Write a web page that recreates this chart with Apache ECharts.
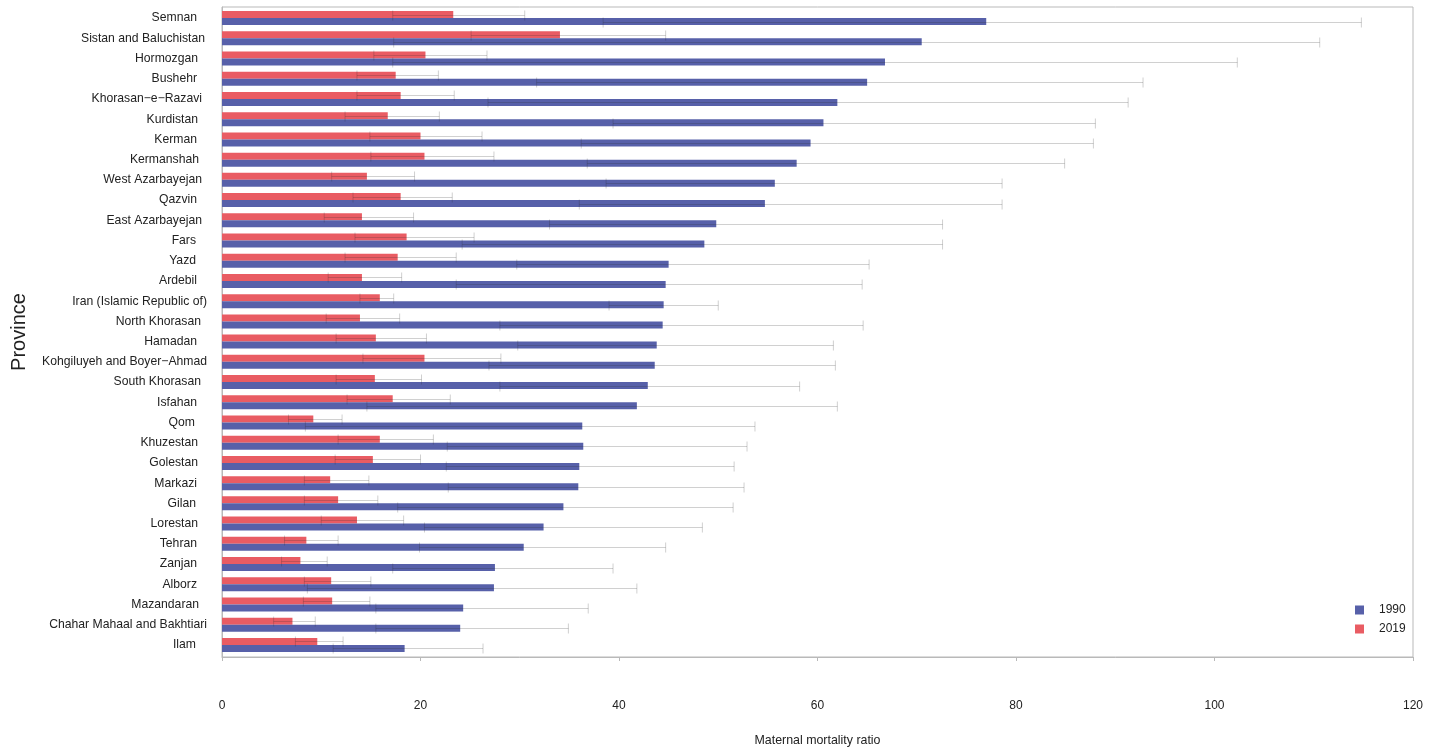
<!DOCTYPE html>
<html>
<head>
<meta charset="utf-8">
<title>Maternal mortality ratio by province</title>
<style>
html, body { margin: 0; padding: 0; background: #fff; }
#chart { width: 1429px; height: 751px; }
</style>
<script src="https://cdn.jsdelivr.net/npm/echarts@6/dist/echarts.min.js"></script>
</head>
<body>
<div id="chart"></div>
<script>
var provinces = ["Semnan", "Sistan and Baluchistan", "Hormozgan", "Bushehr", "Khorasan−e−Razavi", "Kurdistan", "Kerman", "Kermanshah",
	"West Azarbayejan", "Qazvin", "East Azarbayejan", "Fars", "Yazd", "Ardebil", "Iran (Islamic Republic of)", "North Khorasan",
	"Hamadan", "Kohgiluyeh and Boyer−Ahmad", "South Khorasan", "Isfahan", "Qom", "Khuzestan", "Golestan", "Markazi",
	"Gilan", "Lorestan", "Tehran", "Zanjan", "Alborz", "Mazandaran", "Chahar Mahaal and Bakhtiari", "Ilam"];

var values1990 = [77, 70.5, 66.8, 65, 62, 60.6, 59.3, 57.9, 55.7, 54.7, 49.8, 48.6, 45, 44.7, 44.5, 44.4,
	43.8, 43.6, 42.9, 41.8, 36.3, 36.4, 36, 35.9, 34.4, 32.4, 30.4, 27.5, 27.4, 24.3, 24, 18.4];
var lower1990 = [38.4, 17.3, 17.2, 31.7, 26.8, 39.4, 36.2, 36.8, 38.7, 36, 33, 24.2, 29.7, 23.6, 39, 28,
	29.8, 26.9, 28, 14.6, 8.4, 22.7, 22.6, 22.8, 17.7, 20.4, 19.9, 17.2, 8.6, 15.5, 15.5, 11.2];
var upper1990 = [114.8, 110.6, 102.3, 92.8, 91.3, 88, 87.8, 84.9, 78.6, 78.6, 72.6, 72.6, 65.2, 64.5, 50, 64.6,
	61.6, 61.8, 58.2, 62, 53.7, 52.9, 51.6, 52.6, 51.5, 48.4, 44.7, 39.4, 41.8, 36.9, 34.9, 26.3];

var values2019 = [23.3, 34.05, 20.5, 17.5, 18, 16.7, 20, 20.4, 14.6, 18, 14.1, 18.6, 17.7, 14.1, 15.9, 13.9,
	15.5, 20.4, 15.4, 17.2, 9.2, 15.9, 15.2, 10.9, 11.7, 13.6, 8.5, 7.9, 11, 11.1, 7.1, 9.6];
var lower2019 = [17.2, 25.1, 15.3, 13.6, 13.6, 12.4, 14.9, 15, 11.05, 13.2, 10.3, 13.4, 12.4, 10.7, 13.9, 10.5,
	11.5, 14.2, 11.5, 12.6, 6.7, 11.7, 11.4, 8.3, 8.3, 10, 6.3, 6, 8.3, 8.2, 5.2, 7.4];
var upper2019 = [30.5, 44.7, 26.7, 21.8, 23.4, 21.9, 26.2, 27.4, 19.4, 23.2, 19.3, 25.4, 23.6, 18.1, 17.3, 17.9,
	20.6, 28.1, 20.1, 23, 12.1, 21.3, 20, 14.8, 15.7, 18.3, 11.7, 10.6, 15, 14.9, 9.4, 12.2];

var color1990 = "#5760a9";
var color2019 = "#e95c63";
var axisGrey = "#b9b9b9";
var fontName = "'Liberation Sans', Arial, sans-serif";

var chart = echarts.init(document.getElementById("chart"));

// short names sit a little further from the axis than long ones
var labelRich = {};
provinces.forEach(function (name, i) {
	labelRich["p" + i] = { padding: [0, Math.round((28 - name.length) * 0.5), 0, 0], fontSize: 12.2, color: "#222", fontFamily: fontName };
});

// whisker drawn in the middle of its bar, so shift = half a bar
function whiskerSeries(name, lower, upper, shift) {
	var rows = lower.map(function (v, i) {
		return [i, v, upper[i]];
	});
	return {
		name: name,
		type: "custom",
		xAxisIndex: 0,
		yAxisIndex: 0,
		z: 5,
		silent: true,
		encode: { x: [1, 2], y: 0 },
		data: rows,
		renderItem: function (params, api) {
			var low = api.coord([api.value(1), api.value(0)]);
			var high = api.coord([api.value(2), api.value(0)]);
			var y = Math.round(low[1] + shift) + 0.5;
			var style = { stroke: "rgba(40,40,40,0.22)", lineWidth: 1, fill: null };
			return {
				type: "group",
				children: [
					{ type: "line", shape: { x1: low[0], y1: y, x2: high[0], y2: y }, style: style },
					{ type: "line", shape: { x1: low[0], y1: y - 5, x2: low[0], y2: y + 5 }, style: style },
					{ type: "line", shape: { x1: high[0], y1: y - 5, x2: high[0], y2: y + 5 }, style: style }
				]
			};
		}
	};
}

var option = {
	animation: false,
	backgroundColor: "#fff",
	textStyle: { fontFamily: fontName, color: "#222" },
	legend: {
		data: [
			{ name: "1990", icon: "rect" },
			{ name: "2019", icon: "rect" }
		],
		orient: "vertical",
		left: 1350,
		top: 599,
		itemWidth: 9,
		itemHeight: 9,
		itemGap: 7,
		textStyle: { fontSize: 12, color: "#222", fontFamily: fontName, padding: [0, 0, 0, 10] }
	},
	grid: [
		// bars
		{ left: 222, width: 1191, top: 8, height: 647, outerBoundsMode: "none" },
		// frame, ticks and tick labels
		{ left: 222, width: 1191, top: 7, height: 650, show: true, borderColor: axisGrey, borderWidth: 1, outerBoundsMode: "none" }
	],
	xAxis: [
		{ gridIndex: 0, type: "value", min: 0, max: 120, show: false },
		{
			gridIndex: 1,
			type: "value",
			min: 0,
			max: 120,
			interval: 20,
			position: "bottom",
			name: "Maternal mortality ratio",
			nameLocation: "middle",
			nameGap: 78,
			nameTextStyle: { fontSize: 12.4, color: "#222", fontFamily: fontName },
			axisLine: { show: true, lineStyle: { color: axisGrey, width: 1 } },
			axisTick: { show: true, length: 4, lineStyle: { color: axisGrey } },
			axisLabel: { margin: 43, fontSize: 12, color: "#222", fontFamily: fontName, showMinLabel: true, showMaxLabel: true },
			splitLine: { show: false }
		}
	],
	yAxis: [
		{
			gridIndex: 0,
			type: "category",
			inverse: true,
			data: provinces,
			axisLine: { show: false },
			axisTick: { show: false },
			axisLabel: {
				interval: 0,
				margin: 14,
				fontSize: 12.2,
				color: "#222",
				fontFamily: fontName,
				rich: labelRich,
				formatter: function (value, index) {
					return "{p" + index + "|" + value + "}";
				}
			}
		},
		{
			gridIndex: 1,
			type: "value",
			min: 0,
			max: 1,
			name: "Province",
			nameLocation: "middle",
			nameGap: 193,
			nameRotate: 90,
			nameTextStyle: { fontSize: 20, color: "#222", fontFamily: fontName },
			axisLine: { show: true, lineStyle: { color: axisGrey } },
			axisTick: { show: false },
			axisLabel: { show: false },
			splitLine: { show: false }
		}
	],
	series: [
		{
			name: "2019",
			type: "bar",
			xAxisIndex: 0,
			yAxisIndex: 0,
			data: values2019,
			barWidth: 7,
			barGap: "0%",
			itemStyle: { color: color2019 }
		},
		{
			name: "1990",
			type: "bar",
			xAxisIndex: 0,
			yAxisIndex: 0,
			data: values1990,
			barWidth: 7,
			itemStyle: { color: color1990 }
		},
		whiskerSeries("2019 interval", lower2019, upper2019, -3.5),
		whiskerSeries("1990 interval", lower1990, upper1990, 3.5)
	]
};

chart.setOption(option);
</script>
</body>
</html>
